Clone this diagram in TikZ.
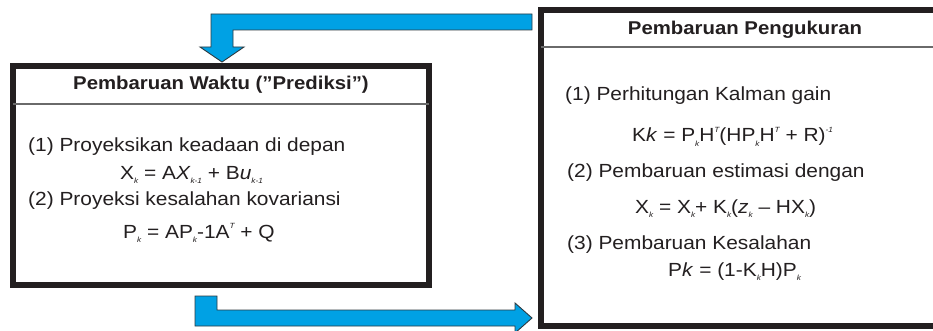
\documentclass[tikz,border=0pt]{standalone}
\usepackage{fontspec}
\setmainfont{Liberation Sans}[FakeStretch=1.1]
\usetikzlibrary{calc}
\definecolor{ink}{HTML}{231F20}
\definecolor{flowblue}{RGB}{0,161,228}
\definecolor{flowedge}{HTML}{2E3A40}
\definecolor{rulegray}{HTML}{6A6A6A}
% small italic indices, lowered or raised
\newcommand\lw[1]{\raisebox{-0.22em}{\fontsize{7.5}{8}\selectfont\itshape #1}}
\newcommand\hg[1]{\raisebox{0.52em}{\fontsize{7.5}{8}\selectfont\itshape #1}}
\begin{document}
\begin{tikzpicture}[x=1pt,y=-1pt,
  panel/.style={draw=ink,line width=6pt,rectangle,inner sep=0pt,fill=white},
  sepline/.style={draw=rulegray,line width=1.8pt},
  title/.style={anchor=base,inner sep=0pt,text=ink,font=\fontsize{18.5}{20}\selectfont\bfseries},
  body/.style={anchor=base west,inner sep=0pt,text=ink,font=\fontsize{19}{21}\selectfont},
  blockarrow/.style={fill=flowblue,draw=flowedge,line width=0.9pt,line join=miter}]
\path[use as bounding box] (0,0) rectangle (933,331);
\clip (0,0) rectangle (933,331);
\fill[white] (0,0) rectangle (933,331);

% the two panels
\node[panel,minimum width=416pt,minimum height=219pt] (predict) at (221,175.5) {};
\node[panel,minimum width=409pt,minimum height=316pt] (update) at (745.5,168) {};

% title rules
\coordinate (pl) at ($(predict.west)+(3,0)$);
\draw[sepline] (pl |- 0,104) -- ($(predict.east |- 0,104)-(3,0)$);
\draw[sepline] ($(update.west |- 0,47)+(3,0)$) -- (update.east |- 0,47);

% time update panel
\node[title] (ptitle) at (221,90) {Pembaruan Waktu (”Prediksi”)};
\node[body] (p1) at (28,152) {(1) Proyeksikan keadaan di depan};
\node[body] (p1f) at (120,179) {X\lw{k} = A\textit{X}\lw{k-1} + B\textit{u}\lw{k-1}};
\node[body] (p2) at (28,205) {(2) Proyeksi kesalahan kovariansi};
\node[body] (p2f) at (123,238) {P\lw{k} = AP\lw{k}-1A\hg{T} + Q};

% measurement update panel
\node[title] (utitle) at (745,35) {Pembaruan Pengukuran};
\node[body] (u1) at (565,101) {(1) Perhitungan Kalman gain};
\node[body] (u1f) at (632,142) {K\textit{k} = P\lw{k}H\hg{T}(HP\lw{k}H\hg{T} + R)\hg{-1}};
\node[body] (u2) at (567,178) {(2) Pembaruan estimasi dengan};
\node[body] (u2f) at (635,213) {X\lw{k} = X\lw{k}+ K\lw{k}(\textit{z}\lw{k} – HX\lw{k})};
\node[body] (u3) at (567,249) {(3) Pembaruan Kesalahan};
\node[body] (u3f) at (668,276) {P\textit{k} = (1-K\lw{k}H)P\lw{k}};

% feedback arrow: measurement update back to time update
\coordinate (tipA) at (predict.north);
\draw[blockarrow] (532,14) -- (211,14) -- (211,47) -- (200,47) -- ($(tipA)+(1,-1)$)
  -- (244,47) -- (233,47) -- (233,30) -- (532,30) -- cycle;

% forward arrow: time update to measurement update
\coordinate (tipB) at (update.west |- 0,318);
\draw[blockarrow] (195,296) -- (217,296) -- (217,310) -- (515,310) -- (515,303)
  -- ($(tipB)+(-6,0)$) -- (515,333) -- (515,326) -- (195,326) -- cycle;
\end{tikzpicture}
\end{document}
